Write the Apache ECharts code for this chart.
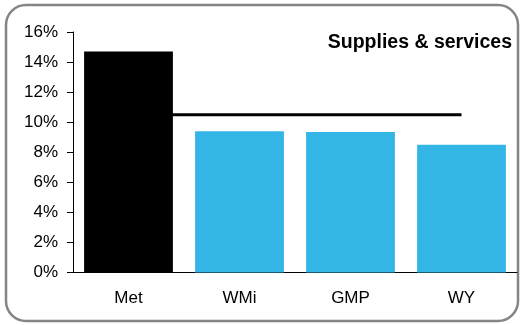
<!DOCTYPE html>
<html>
<head>
<meta charset="utf-8">
<script src="https://cdn.jsdelivr.net/npm/echarts@6/dist/echarts.min.js"></script>
<style>
  html, body { margin: 0; padding: 0; background: #fff; }
  #chart { width: 521px; height: 325px; }
</style>
</head>
<body>
<div id="chart"></div>
<script>
// Supplies & services spending share by area
const categories = ['Met', 'WMi', 'GMP', 'WY'];
const shares = [14.7, 9.4, 9.35, 8.5];
const barColors = ['#000000', '#33B6E6', '#33B6E6', '#33B6E6'];
const averageShare = 10.5;
const yTicks = { min: 0, max: 16, interval: 2 };

const chart = echarts.init(document.getElementById('chart'), null, { renderer: 'canvas' });

const FONT = '"Liberation Sans", Arial, Helvetica, sans-serif';

chart.setOption({
  animation: false,
  backgroundColor: '#ffffff',
  title: {
    text: 'Supplies & services',
    right: 4,
    top: 28,
    textStyle: { fontFamily: FONT, fontSize: 19.5, fontWeight: 'bold', color: '#000' }
  },
  graphic: [{
    type: 'rect',
    shape: { x: 6, y: 5, width: 512, height: 316, r: 20 },
    style: { fill: 'none', stroke: '#858585', lineWidth: 2.5 },
    z: -10
  }],
  grid: { left: 73, right: 4, top: 32, bottom: 52.5 },
  xAxis: {
    type: 'category',
    data: categories,
    axisLine: { lineStyle: { color: '#000', width: 1 } },
    axisTick: { show: false },
    axisLabel: { fontFamily: FONT, fontSize: 17, color: '#000', margin: 17 }
  },
  yAxis: {
    type: 'value',
    min: yTicks.min,
    max: yTicks.max,
    interval: yTicks.interval,
    splitLine: { show: false },
    axisLine: { show: true, lineStyle: { color: '#000', width: 1 } },
    axisTick: { show: true, length: 6, lineStyle: { color: '#000' } },
    axisLabel: {
      fontFamily: FONT, fontSize: 17, color: '#000', margin: 15,
      formatter: '{value}%'
    }
  },
  series: [
    {
      type: 'line',
      data: categories.map(() => averageShare),
      symbol: 'none',
      lineStyle: { color: '#000', width: 3 },
      z: 1
    },
    {
      type: 'bar',
      data: shares.map((v, i) => ({ value: v, itemStyle: { color: barColors[i] } })),
      barCategoryGap: '20%',
      z: 2
    }
  ]
});
</script>
</body>
</html>
